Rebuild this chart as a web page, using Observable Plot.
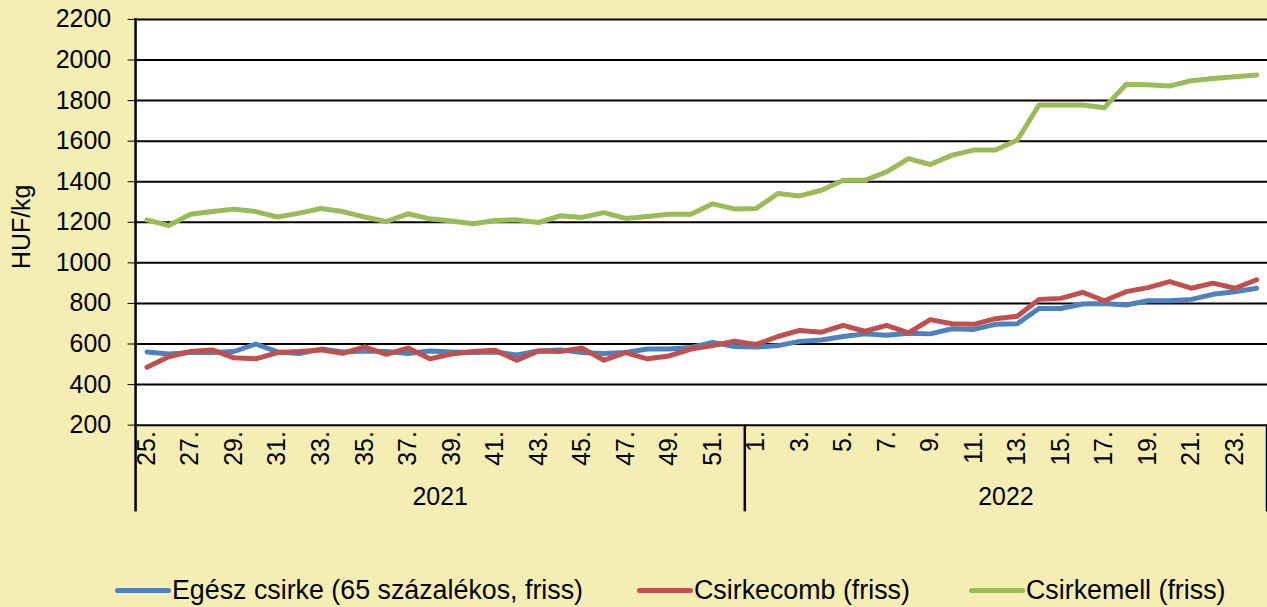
<!DOCTYPE html>
<html><head><meta charset="utf-8">
<script src="https://cdn.jsdelivr.net/npm/d3@7"></script>
<script src="https://cdn.jsdelivr.net/npm/@observablehq/plot@0.6"></script>
<style>
html,body{margin:0;padding:0;background:#F5EEB4;overflow:hidden;width:1267px;height:607px;}
#chart{position:absolute;left:0;top:0;}
#legend{position:absolute;left:0;top:0;font:26.8px "Liberation Sans",Arial,sans-serif;color:#000;}
.item{position:absolute;top:577px;height:27px;line-height:27px;white-space:nowrap;display:flex;align-items:center;}
.sw{width:56px;height:5px;border-radius:2.5px;margin-right:1px;}
</style></head><body>
<div id="chart"></div>
<div id="legend"></div>
<script>
// ---- data ----
const years = [2021,2021,2021,2021,2021,2021,2021,2021,2021,2021,2021,2021,2021,2021,
               2021,2021,2021,2021,2021,2021,2021,2021,2021,2021,2021,2021,2021,2021,
               2022,2022,2022,2022,2022,2022,2022,2022,2022,2022,2022,2022,
               2022,2022,2022,2022,2022,2022,2022,2022,2022,2022,2022,2022];
const weeks = [25,26,27,28,29,30,31,32,33,34,35,36,37,38,39,40,41,42,43,44,45,46,47,48,49,50,51,52,
               1,2,3,4,5,6,7,8,9,10,11,12,13,14,15,16,17,18,19,20,21,22,23,24];
const seriesNames = ["Egész csirke (65 százalékos, friss)", "Csirkecomb (friss)", "Csirkemell (friss)"];
const seriesColors = ["#4F81BD", "#C0504D", "#9BBB59"];
const egeszCsirke = [561,551,558,558,563,600,561,553,575,561,566,563,553,566,561,
                     558,561,546,566,571,558,553,558,575,575,583,608,588,
                     585,592,613,620,637,650,643,653,650,675,672,697,700,775,775,797,800,792,813,813,820,845,858,875];
const csirkecomb  = [486,537,563,571,532,527,558,563,571,554,586,549,580,527,551,
                     563,569,520,566,563,580,520,558,527,541,575,592,614,
                     598,637,667,658,692,663,692,655,720,700,697,725,737,820,825,855,813,858,878,908,875,900,875,917];
const csirkemell  = [1212,1184,1240,1253,1265,1253,1226,1245,1268,1253,1226,1204,1242,1217,1206,
                     1193,1209,1212,1199,1232,1224,1248,1219,1229,1240,1240,1291,1266,
                     1268,1342,1330,1358,1407,1407,1449,1514,1485,1531,1556,1556,1605,1778,1778,1778,1765,1880,1878,1872,1898,1909,1918,1926];
const yTicks = [200,400,600,800,1000,1200,1400,1600,1800,2000,2200];
const yLabel = "HUF/kg";

// ---- build ----
const keys = weeks.map((w, i) => `${years[i]}-${w}`);
const seriesValues = [egeszCsirke, csirkecomb, csirkemell];
const rows = [];
seriesNames.forEach((s, si) => keys.forEach((k, i) => rows.push({key: k, series: s, value: seriesValues[si][i]})));
const yearGroups = [...new Set(years)].map(y => {
  const ks = keys.filter((k, i) => years[i] === y);
  return {year: y, first: ks[0], last: ks[ks.length - 1]};
});

const FONT = '"Liberation Sans", Arial, sans-serif';

function decorations(index, scales, values, dims) {
  const x = scales.x;
  const step = x(keys[1]) - x(keys[0]);
  const top = dims.marginTop;
  const bottom = dims.height - dims.marginBottom;
  const g = d3.create("svg:g").attr("font-family", FONT).attr("font-size", 25).attr("fill", "black");
  g.append("line").attr("x1", dims.marginLeft).attr("x2", dims.marginLeft)
    .attr("y1", top - 1).attr("y2", bottom + 87).attr("stroke", "black").attr("stroke-width", 2.5);
  yearGroups.forEach(gp => {
    const x0 = x(gp.first) - step / 2, x1 = x(gp.last) + step / 2;
    g.append("line").attr("x1", x1).attr("x2", x1).attr("y1", bottom).attr("y2", bottom + 87)
      .attr("stroke", "black").attr("stroke-width", 2.5);
    g.append("text").attr("x", (x0 + x1) / 2).attr("y", bottom + 81)
      .attr("text-anchor", "middle").text(gp.year);
  });
  g.append("text").attr("transform", `translate(30,${(top + bottom) / 2 + 5}) rotate(-90)`)
    .attr("text-anchor", "middle").text(yLabel);
  return g.node();
}

const chart = Plot.plot({
  width: 1271,
  height: 540,
  marginLeft: 136,
  marginRight: 0,
  marginTop: 19,
  marginBottom: 114,
  style: {background: "transparent", fontSize: "25px", fontFamily: FONT, color: "black", overflow: "visible"},
  x: {type: "point", domain: keys, padding: 0.5, label: null, tickSize: 0, tickPadding: 6, tickRotate: -90,
      tickFormat: k => { const w = +k.split("-")[1]; return w % 2 === 1 ? `${w}.` : ""; }},
  y: {domain: [200, 2200], ticks: yTicks, tickSize: 8, tickPadding: 17, label: null, tickFormat: d => `${d}`},
  color: {domain: seriesNames, range: seriesColors},
  marks: [
    Plot.frame({fill: "white", stroke: "none"}),
    Plot.ruleY(yTicks, {stroke: "black", strokeWidth: 2}),
    Plot.line(rows, {x: "key", y: "value", z: "series", stroke: "series", strokeWidth: 5,
                     strokeLinejoin: "round", strokeLinecap: "round"}),
    decorations
  ]
});
document.getElementById("chart").appendChild(chart);

// legend
const legendLefts = [115, 637, 969];
const legend = document.getElementById("legend");
seriesNames.forEach((s, i) => {
  const it = document.createElement("div");
  it.className = "item";
  it.style.left = legendLefts[i] + "px";
  const sw = document.createElement("span");
  sw.className = "sw";
  sw.style.background = seriesColors[i];
  const tx = document.createElement("span");
  tx.textContent = s;
  it.appendChild(sw); it.appendChild(tx);
  legend.appendChild(it);
});
</script>
</body></html>
